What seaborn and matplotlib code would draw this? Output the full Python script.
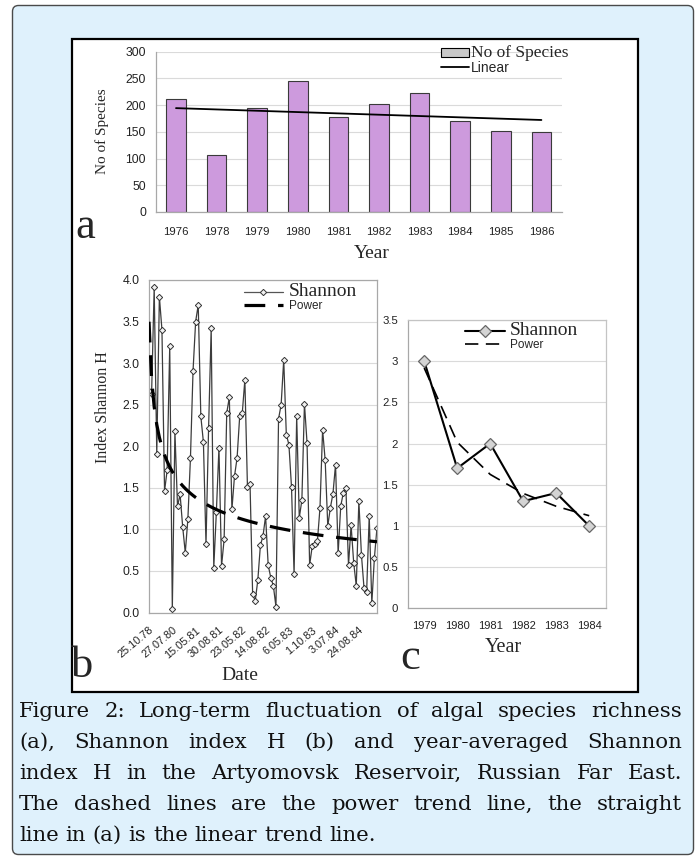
import numpy as np
import pandas as pd
import matplotlib
matplotlib.use("Agg")
import matplotlib.pyplot as plt
import seaborn as sns
from matplotlib.patches import FancyBboxPatch, Rectangle, Patch
from matplotlib.lines import Line2D

# ---------------- data ----------------
years_a = ["1976", "1978", "1979", "1980", "1981", "1982", "1983", "1984", "1985", "1986"]
species_a = [211, 106, 195, 246, 178, 203, 223, 171, 151, 149]

shannon_b = [2.66, 2.63, 3.91, 1.91, 3.80, 3.40, 1.46, 1.71, 3.20, 0.04,
             2.18, 1.28, 1.42, 1.03, 0.72, 1.12, 1.86, 2.91, 3.50, 3.70,
             2.36, 2.05, 0.82, 2.22, 3.42, 0.54, 1.21, 1.98, 0.56, 0.88,
             2.40, 2.59, 1.24, 1.64, 1.86, 2.36, 2.40, 2.80, 1.51, 1.54,
             0.22, 0.14, 0.39, 0.81, 0.92, 1.16, 0.57, 0.42, 0.32, 0.07,
             2.33, 2.50, 3.04, 2.14, 2.02, 1.51, 0.46, 2.36, 1.14, 1.35,
             2.51, 2.04, 0.57, 0.80, 0.82, 0.86, 1.26, 2.20, 1.83, 1.04,
             1.26, 1.43, 1.78, 0.71, 1.28, 1.44, 1.50, 0.57, 1.05, 0.60,
             0.32, 1.34, 0.69, 0.29, 0.25, 1.16, 0.11, 0.66, 1.02]
date_labels_b = ["25.10.78", "27.07.80", "15.05.81", "30.08.81", "23.05.82",
                 "14.08.82", "6.05.83", "1.10.83", "3.07.84", "24.08.84"]

years_c = ["1979", "1980", "1981", "1982", "1983", "1984"]
shannon_c = [3.0, 1.7, 2.0, 1.3, 1.4, 1.0]

caption_lines = [
    "Figure 2: Long-term fluctuation of algal species richness",
    "(a), Shannon index H (b) and year-averaged Shannon",
    "index H in the Artyomovsk Reservoir, Russian Far East.",
    "The dashed lines are the power trend line, the straight",
    "line in (a) is the linear trend line.",
]

# ---------------- style ----------------
W, H = 699, 856
sns.set_style("white")
plt.rcParams['font.family'] = ['Liberation Sans', 'DejaVu Sans']
SERIF = ['Liberation Serif', 'DejaVu Serif']
CAP_FONT = ['DejaVu Serif']
GRID = '#DADADA'
SPINE = '#A8A8A8'

fig = plt.figure(figsize=(W / 100, H / 100), dpi=100)
fig.patch.set_facecolor('white')


def add_ax(l, t, r, b):
    ax = fig.add_axes([l / W, 1 - b / H, (r - l) / W, (b - t) / H])
    ax.set_facecolor('none')
    return ax


def place_label(ax, which, box, px, py):
    l, t, r, b = box
    fx = (px - l) / (r - l)
    fy = (b - py) / (b - t)
    if which == 'x':
        ax.xaxis.set_label_coords(fx, fy)
        ax.xaxis.label.set_va('center')
    else:
        ax.yaxis.set_label_coords(fx, fy)
        ax.yaxis.label.set_va('center')


def frac(box, px, py):
    l, t, r, b = box
    return ((px - l) / (r - l), (b - py) / (b - t))


# background
bg = fig.add_axes([0, 0, 1, 1])
bg.set_xlim(0, W)
bg.set_ylim(H, 0)
bg.axis('off')
bg.add_patch(FancyBboxPatch((12.5, 5.5), 681, 849,
                            boxstyle="round,pad=0,rounding_size=6",
                            fc='#DFF1FC', ec='#4a4a4a', lw=1.0))
bg.add_patch(Rectangle((72, 38.5), 566, 653, fc='white', ec='black', lw=1.6))

# ---------------- panel a ----------------
box_a = (155.7, 51.7, 561.7, 212)
ax_a = add_ax(*box_a)
df_a = pd.DataFrame({'Year': years_a, 'Species': species_a})
sns.barplot(data=df_a, x='Year', y='Species', color='#CD9ADD', saturation=1,
            edgecolor='#3a3a3a', linewidth=0.8, width=0.48, ax=ax_a, zorder=2)
idx_a = np.arange(len(years_a))
coef_a = np.polyfit(idx_a, species_a, 1)
sns.lineplot(x=idx_a, y=np.polyval(coef_a, idx_a), color='black', lw=1.3,
             ax=ax_a, zorder=3)
ax_a.set_xlim(-0.5, len(years_a) - 0.5)
ax_a.set_ylim(0, 300)
ax_a.set_yticks(range(0, 301, 50))
ax_a.yaxis.grid(True, color=GRID, lw=0.8)
ax_a.set_axisbelow(True)
for s in ['top', 'right']:
    ax_a.spines[s].set_visible(False)
for s in ['left', 'bottom']:
    ax_a.spines[s].set_color(SPINE)
    ax_a.spines[s].set_linewidth(0.9)
ax_a.set_xticks(idx_a)
ax_a.set_xticklabels(years_a)
ax_a.set_xticks(np.arange(-0.5, len(years_a), 1), minor=True)
ax_a.tick_params(axis='x', which='major', length=0, pad=11, labelsize=8.2, colors='#222')
ax_a.tick_params(axis='x', which='minor', length=4, width=0.8, color=SPINE, direction='out')
ax_a.tick_params(axis='y', length=0, pad=7, labelsize=8.8, colors='#222')
ax_a.set_xlabel("Year", fontsize=14, family=SERIF)
ax_a.set_ylabel("No of Species", fontsize=11, family=SERIF)
place_label(ax_a, 'x', box_a, 372, 254)
place_label(ax_a, 'y', box_a, 102, 131)
leg_a = ax_a.legend(handles=[Patch(fc='#C8C8C8', ec='black', lw=0.8),
                             Line2D([], [], color='black', lw=1.3)],
                    labels=["No of Species", "Linear"], loc='upper left',
                    bbox_to_anchor=frac(box_a, 441, 45), frameon=False,
                    fontsize=10, handlelength=2.0, handleheight=0.6,
                    handletextpad=0.15, labelspacing=0.0, borderaxespad=0, borderpad=0)
leg_a.get_texts()[0].set_fontfamily(SERIF)
leg_a.get_texts()[0].set_fontsize(12.5)

# ---------------- panel b ----------------
box_b = (149, 280, 377, 612.5)
ax_b = add_ax(*box_b)
idx_b = np.arange(len(shannon_b))
sns.lineplot(x=idx_b, y=shannon_b, color='#3c3c3c', lw=0.9, marker='D',
             markersize=3.2, markerfacecolor='#f2f2f2', markeredgecolor='#333',
             markeredgewidth=0.7, ax=ax_b, zorder=2)
pb, lna_b = np.polyfit(np.log(idx_b + 1), np.log(shannon_b), 1)
trend_b = np.exp(lna_b) * (idx_b + 1) ** pb
sns.lineplot(x=idx_b, y=trend_b, color='black', lw=2.3,
             linestyle=(0, (6.5, 4)), ax=ax_b, zorder=3)
ax_b.set_xlim(0, len(shannon_b) - 1)
ax_b.set_ylim(0, 4)
yt_b = np.arange(0, 4.01, 0.5)
ax_b.set_yticks(yt_b)
ax_b.set_yticklabels([f"{v:.1f}" for v in yt_b])
ax_b.yaxis.grid(True, color=GRID, lw=0.8)
ax_b.set_axisbelow(True)
for s in ax_b.spines.values():
    s.set_color(SPINE)
    s.set_linewidth(0.9)
step_b = 9
ax_b.set_xticks(idx_b[::step_b][:len(date_labels_b)])
ax_b.set_xticklabels(date_labels_b, rotation=40, ha='right', rotation_mode='anchor')
ax_b.set_xticks(idx_b, minor=True)
ax_b.tick_params(axis='x', which='major', length=3, width=0.6, color=SPINE, pad=6,
                 labelsize=7.8, colors='#222')
ax_b.tick_params(axis='x', which='minor', length=3, width=0.6, color=SPINE)
ax_b.tick_params(axis='y', length=0, pad=7, labelsize=8.8, colors='#222')
ax_b.set_xlabel("Date", fontsize=14, family=SERIF)
ax_b.set_ylabel("Index Shannon H", fontsize=11.5, family=SERIF)
place_label(ax_b, 'x', box_b, 240, 676)
place_label(ax_b, 'y', box_b, 103, 407)
leg_b = ax_b.legend(handles=[Line2D([], [], color='#555', lw=0.9, marker='D', ms=3.2,
                                    mfc='#f2f2f2', mec='#333', mew=0.7),
                             Line2D([], [], color='black', lw=2.3, ls=(0, (6.5, 4)))],
                    labels=["Shannon", "Power"], loc='upper left',
                    bbox_to_anchor=frac(box_b, 244, 283), frameon=False,
                    fontsize=8.5, handlelength=3.3, handletextpad=0.5,
                    labelspacing=0.0, borderaxespad=0, borderpad=0)
leg_b.get_texts()[0].set_fontfamily(SERIF)
leg_b.get_texts()[0].set_fontsize(14)

# ---------------- panel c ----------------
box_c = (407.7, 320, 605.7, 608.3)
ax_c = add_ax(*box_c)
idx_c = np.arange(len(years_c))
sns.lineplot(x=idx_c, y=shannon_c, color='black', lw=1.5, marker='D',
             markersize=6.5, markerfacecolor='#d4d4d4', markeredgecolor='#666',
             markeredgewidth=0.9, ax=ax_c, zorder=3)
pc, lna_c = np.polyfit(np.log(idx_c + 1), np.log(shannon_c), 1)
trend_c = np.exp(lna_c) * (idx_c + 1) ** pc
sns.lineplot(x=idx_c, y=trend_c, color='black', lw=1.2,
             linestyle=(0, (8, 4.5)), ax=ax_c, zorder=2)
ax_c.set_xlim(-0.5, len(years_c) - 0.5)
ax_c.set_ylim(0, 3.5)
yt_c = np.arange(0, 3.51, 0.5)
ax_c.set_yticks(yt_c)
ax_c.set_yticklabels([f"{v:g}" for v in yt_c])
ax_c.yaxis.grid(True, color=GRID, lw=0.8)
ax_c.set_axisbelow(True)
for s in ax_c.spines.values():
    s.set_color('#C4C4C4')
    s.set_linewidth(0.9)
ax_c.spines['left'].set_color(SPINE)
ax_c.spines['bottom'].set_color(SPINE)
ax_c.set_xticks(idx_c)
ax_c.set_xticklabels(years_c)
ax_c.set_xticks(np.arange(-0.5, len(years_c), 1), minor=True)
ax_c.tick_params(axis='x', which='major', length=0, pad=9, labelsize=8, colors='#222')
ax_c.tick_params(axis='x', which='minor', length=4, width=0.8, color=SPINE)
ax_c.tick_params(axis='y', length=0, pad=7, labelsize=8.2, colors='#222')
ax_c.set_xlabel("Year", fontsize=14.5, family=SERIF)
ax_c.set_ylabel("")
place_label(ax_c, 'x', box_c, 503, 648)
leg_c = ax_c.legend(handles=[Line2D([], [], color='black', lw=1.5, marker='D', ms=6,
                                    mfc='#d4d4d4', mec='#666', mew=0.9),
                             Line2D([], [], color='black', lw=1.2, ls=(0, (8, 4.5)))],
                    labels=["Shannon", "Power"], loc='upper left',
                    bbox_to_anchor=frac(box_c, 465, 322), frameon=False,
                    fontsize=8.5, handlelength=3.4, handletextpad=0.4,
                    labelspacing=0.0, borderaxespad=0, borderpad=0)
leg_c.get_texts()[0].set_fontfamily(SERIF)
leg_c.get_texts()[0].set_fontsize(14)

# ---------------- panel letters ----------------
bg.text(85, 238, "a", fontsize=32, family=SERIF, ha='center', va='baseline')
bg.text(82, 677, "b", fontsize=32, family=SERIF, ha='center', va='baseline')
bg.text(410, 669, "c", fontsize=32, family=SERIF, ha='center', va='baseline')

# ---------------- caption (justified) ----------------
fig.canvas.draw()
renderer = fig.canvas.get_renderer()
cap_left, cap_right = 19, 682
baselines = [717, 748, 779, 810, 841]
cap_size = 15.3
sp = bg.text(0, 0, "a a", fontsize=cap_size, family=CAP_FONT)
sp2 = bg.text(0, 0, "aa", fontsize=cap_size, family=CAP_FONT)
space_w = sp.get_window_extent(renderer).width - sp2.get_window_extent(renderer).width
sp.remove()
sp2.remove()
for i, line in enumerate(caption_lines):
    words = line.split(' ')
    texts = [bg.text(0, baselines[i], w, fontsize=cap_size, family=CAP_FONT,
                     va='baseline', ha='left', color='#111') for w in words]
    widths = [t.get_window_extent(renderer).width for t in texts]
    if i < len(caption_lines) - 1 and len(words) > 1:
        gap = (cap_right - cap_left - sum(widths)) / (len(words) - 1)
    else:
        gap = space_w
    x = cap_left
    for t, w in zip(texts, widths):
        t.set_x(x)
        x += w + gap

fig.savefig("out.png", dpi=100, facecolor=fig.get_facecolor())
